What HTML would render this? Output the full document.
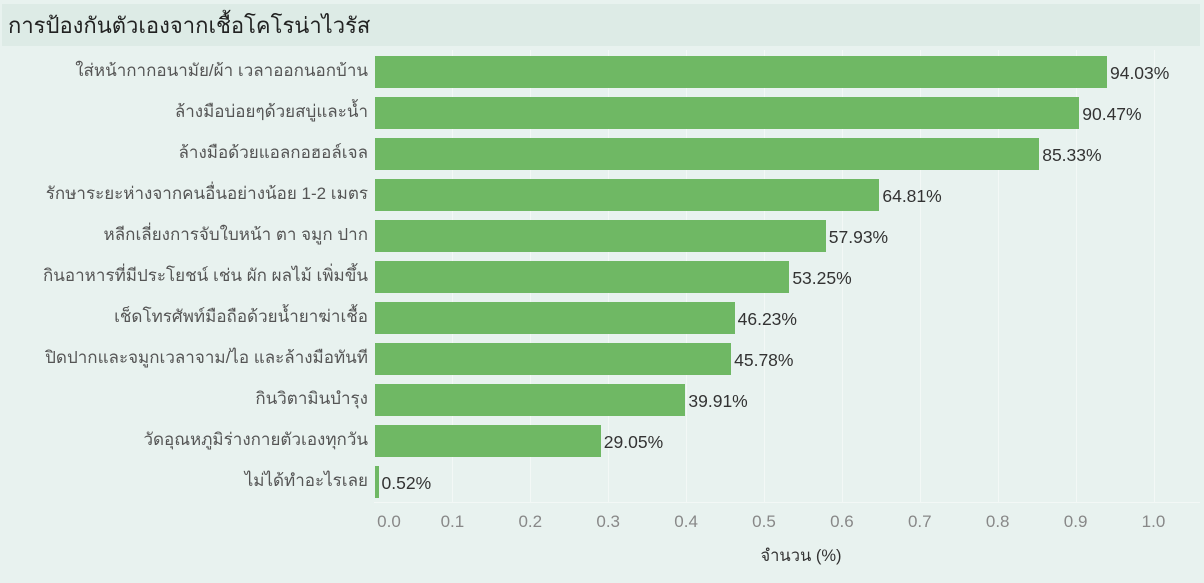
<!DOCTYPE html>
<html><head><meta charset="utf-8"><style>
body{margin:0;width:1204px;height:583px;background:#e8f2ef;font-family:"Liberation Sans","Noto Sans CJK SC",sans-serif;position:relative;overflow:hidden}
.title{position:absolute;left:2px;top:4px;width:1198px;height:42px;background:#ddebe6;font-size:22px;color:#222;line-height:44px;padding-left:6px;box-sizing:border-box}
.lab{position:absolute;right:836px;font-size:17px;color:#555;white-space:nowrap;line-height:20px}
.bar{position:absolute;left:374.5px;height:32px;background:#6fb864}
.val{position:absolute;font-size:17.5px;color:#333;line-height:20px}
.grid{position:absolute;top:50px;height:452px;width:1px;background:#f3f8f6}
.tick{position:absolute;top:512px;font-size:17px;color:#888;width:40px;text-align:center}
</style></head><body>
<div class="title">การป้องกันตัวเองจากเชื้อโคโรน่าไวรัส</div>
<div style="position:absolute;left:374px;top:502px;width:826px;height:1px;background:#f3f8f6"></div>
<div id="c"></div>
<div style="position:absolute;top:543px;text-align:center;left:601px;width:400px;font-size:16.5px;color:#333">จำนวน (%)</div>
<script>
var d=[["ใส่หน้ากากอนามัย/ผ้า เวลาออกนอกบ้าน",94.03],["ล้างมือบ่อยๆด้วยสบู่และน้ำ",90.47],["ล้างมือด้วยแอลกอฮอล์เจล",85.33],["รักษาระยะห่างจากคนอื่นอย่างน้อย 1-2 เมตร",64.81],["หลีกเลี่ยงการจับใบหน้า ตา จมูก ปาก",57.93],["กินอาหารที่มีประโยชน์ เช่น ผัก ผลไม้ เพิ่มขึ้น",53.25],["เช็ดโทรศัพท์มือถือด้วยน้ำยาฆ่าเชื้อ",46.23],["ปิดปากและจมูกเวลาจาม/ไอ และล้างมือทันที",45.78],["กินวิตามินบำรุง",39.91],["วัดอุณหภูมิร่างกายตัวเองทุกวัน",29.05],["ไม่ได้ทำอะไรเลย",0.52]];
var h="",W=779;
for(var i=1;i<=10;i++){var x=374.5+W*i/10;h+='<div class="grid" style="left:'+x+'px"></div>';}
for(var i=0;i<=10;i++){var x=374.5+W*i/10;h+='<div class="tick" style="left:'+(i==0?369:x-20)+'px">'+(i/10).toFixed(1)+'</div>';}
d.forEach(function(r,i){var cy=72+41*i,w=Math.max(3,W*r[1]/100);
h+='<div class="lab" style="top:'+(cy-11)+'px">'+r[0]+'</div>';
h+='<div class="bar" style="top:'+(cy-16)+'px;width:'+w+'px"></div>';
h+='<div class="val" style="top:'+(cy-9)+'px;left:'+(374.5+w+3)+'px">'+r[1].toFixed(2)+'%</div>';});
document.getElementById('c').innerHTML=h;
</script>
</body></html>
